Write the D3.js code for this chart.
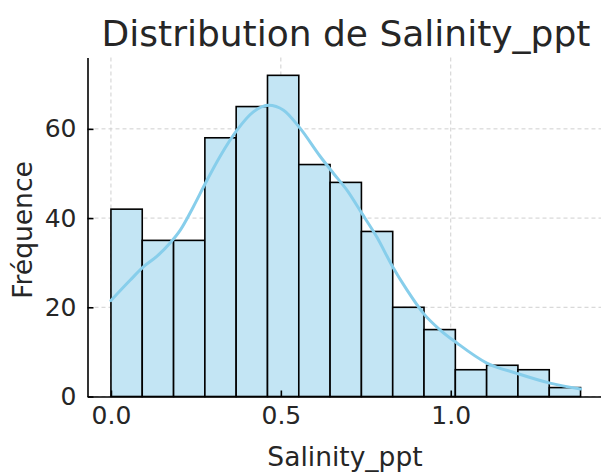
<!DOCTYPE html>
<html>
<head>
<meta charset="utf-8">
<script src="https://cdn.jsdelivr.net/npm/d3@7"></script>
<style>
    body { margin: 0; background: #fff; }
    text { font-family: "DejaVu Sans", sans-serif; fill: #262626; }
</style>
</head>
<body>
<svg id="chart" width="601" height="472"></svg>
<script>
// histogram bins (Salinity_ppt)
var binEdges = [0, 0.0921, 0.1843, 0.2764, 0.3685, 0.4607, 0.5528, 0.6449, 0.7371,
    0.8292, 0.9213, 1.0135, 1.1056, 1.1977, 1.2899, 1.382];
var binCounts = [42, 35, 35, 58, 65, 72, 52, 48, 37, 20, 15, 6, 7, 6, 2];

// kde curve
var kdeX = [0, 0.057, 0.096, 0.135, 0.174, 0.204, 0.243, 0.278, 0.321, 0.371, 0.419, 0.464,
    0.508, 0.557, 0.616, 0.655, 0.694, 0.738, 0.782, 0.829, 0.871, 0.919, 0.969, 1.018,
    1.106, 1.194, 1.292, 1.382];
var kdeY = [21.5, 26.1, 29.1, 31.4, 34.4, 37.3, 42.6, 47.8, 53.8, 59.7, 63.8, 65.3,
    64.2, 60.1, 53.8, 50.0, 46.3, 41.1, 35.8, 29.1, 23.9, 18.7, 14.9, 12.0,
    7.5, 5.2, 3.0, 1.7];

var xTicks = [0, 0.5, 1.0];
var yTicks = [0, 20, 40, 60];

var svg = d3.select('#chart');

var m = {left: 87.5, right: 604, top: 57.5, bottom: 396.5};

var x = d3.scaleLinear().domain([-0.069, 1.451]).range([m.left, m.right]);
var y = d3.scaleLinear().domain([0, 76]).range([m.bottom, m.top]);

// grid
var grid = svg.append('g');
grid.selectAll('line.gx')
    .data(xTicks)
    .enter().append('line')
    .attr('x1', function (d) { return x(d); })
    .attr('x2', function (d) { return x(d); })
    .attr('y1', m.top).attr('y2', m.bottom)
    .style('stroke', '#cfcfcf').style('stroke-width', 1).style('stroke-dasharray', '4,3');
grid.selectAll('line.gy')
    .data(yTicks)
    .enter().append('line')
    .attr('x1', m.left).attr('x2', m.right)
    .attr('y1', function (d) { return y(d); })
    .attr('y2', function (d) { return y(d); })
    .style('stroke', '#cfcfcf').style('stroke-width', 1).style('stroke-dasharray', '4,3');

// bars
var bins = binCounts.map(function (c, i) {
    return {x0: binEdges[i], x1: binEdges[i + 1], n: c};
});
svg.append('g')
    .selectAll('rect')
    .data(bins)
    .enter().append('rect')
    .attr('x', function (d) { return x(d.x0); })
    .attr('width', function (d) { return x(d.x1) - x(d.x0); })
    .attr('y', function (d) { return y(d.n); })
    .attr('height', function (d) { return y(0) - y(d.n); })
    .style('fill', '#c3e5f4')
    .style('stroke', '#000')
    .style('stroke-width', 1.6);

// kde
var line = d3.line()
    .x(function (d) { return x(d[0]); })
    .y(function (d) { return y(d[1]); })
    .curve(d3.curveMonotoneX);
svg.append('path')
    .datum(d3.zip(kdeX, kdeY))
    .attr('d', line)
    .style('fill', 'none')
    .style('stroke', '#87ceeb')
    .style('stroke-width', 3)
    .style('stroke-linecap', 'round');

// axes
var xAxis = svg.append('g')
    .attr('transform', 'translate(0,' + m.bottom + ')')
    .call(d3.axisBottom(x).tickValues(xTicks).tickFormat(d3.format('.1f')).tickSizeInner(-6).tickSizeOuter(0).tickPadding(10));
var yAxis = svg.append('g')
    .attr('transform', 'translate(' + m.left + ',0)')
    .call(d3.axisLeft(y).tickValues(yTicks).tickSizeInner(-6).tickSizeOuter(0).tickPadding(11));

[xAxis, yAxis].forEach(function (a) {
    a.select('.domain').style('stroke', '#000').style('stroke-width', 1.6);
    a.selectAll('.tick line').style('stroke', '#000').style('stroke-width', 1.6);
    a.selectAll('.tick text').style('font-size', '25px').style('fill', '#262626')
        .style('font-family', '"DejaVu Sans", sans-serif');
});

// titles
svg.append('text')
    .attr('x', 346).attr('y', 46)
    .attr('text-anchor', 'middle')
    .style('font-size', '36px')
    .text('Distribution de Salinity_ppt');

svg.append('text')
    .attr('x', 345).attr('y', 466)
    .attr('text-anchor', 'middle')
    .style('font-size', '26.5px')
    .text('Salinity_ppt');

svg.append('text')
    .attr('transform', 'translate(32,230) rotate(-90)')
    .attr('text-anchor', 'middle')
    .style('font-size', '26.5px')
    .text('Fréquence');
</script>
</body>
</html>
